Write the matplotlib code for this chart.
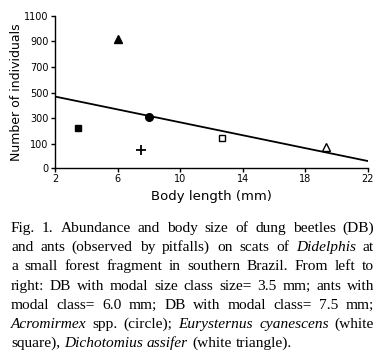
import matplotlib

matplotlib.use("Agg")

import matplotlib.pyplot as plt

# data
body_length = [3.5, 6.0, 7.5, 8.0, 12.7, 19.3]
individuals = [224, 916, 55, 310, 144, 77]
markers = ["s", "^", "+", "o", "s", "^"]
face_colors = ["black", "black", "black", "black", "white", "white"]
marker_sizes = [5, 6, 7, 5.5, 4.5, 6]

fit_x = [2, 22]
fit_y = [470, -33]

x_ticks = [2, 6, 10, 14, 18, 22]
y_ticks = [-87, 100, 300, 500, 700, 900, 1100]
y_tick_labels = ["0", "100", "300", "500", "700", "900", "1100"]

# caption lines, *word* marks italics
caption = [
    "Fig. 1. Abundance and body size of dung beetles (DB)",
    "and ants (observed by pitfalls) on scats of *Didelphis* at",
    "a small forest fragment in southern Brazil. From left to",
    "right: DB with modal size class size= 3.5 mm; ants with",
    "modal class= 6.0 mm; DB with modal class= 7.5 mm;",
    "*Acromirmex* spp. (circle); *Eurysternus* *cyanescens* (white",
    "square), *Dichotomius* *assifer* (white triangle).",
]

W, H = 386, 362
fig = plt.figure(figsize=(W / 100, H / 100), dpi=100)
ax = fig.add_axes([55 / W, 1 - 168 / H, 313 / W, 152.3 / H])

ax.plot(fit_x, fit_y, color="black", linewidth=1.3, zorder=2)
for x, y, m, fc, s in zip(body_length, individuals, markers, face_colors, marker_sizes):
    ax.plot(x, y, marker=m, markersize=s, markerfacecolor=fc,
            markeredgecolor="black", markeredgewidth=1.3 if m == "+" else 1.0,
            linestyle="none", zorder=3)

ax.set_xlim(2, 22)
ax.set_ylim(-87, 1100)
ax.set_xticks(x_ticks)
ax.set_yticks(y_ticks)
ax.set_yticklabels(y_tick_labels)
for side in ("top", "right"):
    ax.spines[side].set_visible(False)
for side in ("left", "bottom"):
    ax.spines[side].set_linewidth(1.0)
ax.tick_params(length=3, width=1.0, labelsize=7, pad=1.5)
ax.set_xlabel("Body length (mm)", fontsize=9.5, labelpad=4)
ax.set_ylabel("Number of individuals", fontsize=9, labelpad=1)

# justified caption in a serif face
left, right = 11, 374
first_base = 232
line_step = 19.2
renderer = fig.canvas.get_renderer()
for i, line in enumerate(caption):
    words = [(w.replace("*", ""), w.startswith("*")) for w in line.split(" ")]
    y = 1 - (first_base + i * line_step) / H
    texts = []
    for w, italic in words:
        t = fig.text(0, y, w, fontsize=11.1, family="Liberation Serif",
                     style="italic" if italic else "normal", va="baseline")
        texts.append(t)
    widths = [t.get_window_extent(renderer).width for t in texts]
    if i == len(caption) - 1:
        gap = 4.0
    else:
        gap = (right - left - sum(widths)) / (len(texts) - 1)
    x = left
    for t, wd in zip(texts, widths):
        t.set_x(x / W)
        x += wd + gap

fig.savefig("out.png", dpi=100)
